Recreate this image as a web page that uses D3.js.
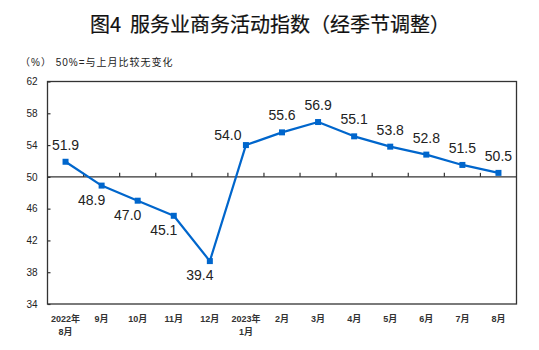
<!DOCTYPE html>
<html>
<head>
<meta charset="utf-8">
<script src="https://cdn.jsdelivr.net/npm/d3@7"></script>
<style>
  html, body { margin: 0; padding: 0; background: #fff; }
  svg { display: block; }
</style>
</head>
<body>
<svg id="chart" width="539" height="350"></svg>
<script>
// Services business activity index, seasonally adjusted
const categories = ["2022-08","2022-09","2022-10","2022-11","2022-12","2023-01","2023-02","2023-03","2023-04","2023-05","2023-06","2023-07","2023-08"];
const categoryLabels = [["2022年","8月"],["9月"],["10月"],["11月"],["12月"],["2023年","1月"],["2月"],["3月"],["4月"],["5月"],["6月"],["7月"],["8月"]];
const values = [51.9, 48.9, 47.0, 45.1, 39.4, 54.0, 55.6, 56.9, 55.1, 53.8, 52.8, 51.5, 50.5];
const labelPlacement = ["above","below","below","below","below","left","above","above","above","above","above","above","above"];
const yTicks = [34, 38, 42, 46, 50, 54, 58, 62];
const baseline = 50;

const svg = d3.select("#chart");
const frame = { left: 47.5, right: 516.5, top: 81.5, bottom: 304 };

const x = d3.scaleBand().domain(categories).range([frame.left, frame.right]).padding(0);
const y = d3.scaleLinear().domain([34, 62]).range([frame.bottom, frame.top]);
const cx = d => x(d) + x.bandwidth() / 2;

const cjk = "'Noto Sans CJK SC', sans-serif";
const latin = "'Liberation Sans', Arial, 'Noto Sans CJK SC', sans-serif";
const ink = "#222";
const axisColor = "#333";
const lineColor = "#0066cc";

// Title
svg.append("text")
  .attr("x", 270).attr("y", 32)
  .attr("text-anchor", "middle")
  .attr("font-family", cjk).attr("font-size", 20).attr("font-weight", "normal")
  .attr("fill", "#111").attr("stroke", "#111").attr("stroke-width", 0.2)
  .text("图4\u00a0\u00a0服务业商务活动指数（经季节调整）");

// Unit note
svg.append("text")
  .attr("x", 20).attr("y", 66)
  .attr("font-family", latin).attr("font-size", 10)
  .attr("letter-spacing", 1)
  .attr("fill", ink)
  .text("（%） 50%=与上月比较无变化");

// Plot frame
svg.append("rect")
  .attr("x", frame.left).attr("y", frame.top)
  .attr("width", frame.right - frame.left).attr("height", frame.bottom - frame.top)
  .attr("fill", "none").attr("stroke", axisColor).attr("stroke-width", 1.3);

// Y axis with inward ticks
const yAxis = svg.append("g")
  .attr("transform", `translate(${frame.left},0)`)
  .call(d3.axisLeft(y).tickValues(yTicks).tickSizeInner(-3).tickSizeOuter(0).tickPadding(10));
yAxis.select(".domain").remove();
yAxis.selectAll(".tick line").attr("stroke", axisColor).attr("stroke-width", 1.2);
yAxis.selectAll(".tick text")
  .attr("font-family", latin).attr("font-size", 10).attr("fill", ink);

// Horizontal axis at the 50 baseline, with ticks between months
const y50 = y(baseline);
svg.append("line")
  .attr("x1", frame.left).attr("x2", frame.right)
  .attr("y1", y50).attr("y2", y50)
  .attr("stroke", axisColor).attr("stroke-width", 1.3);
svg.append("g").selectAll("line")
  .data(categories.slice(1))
  .join("line")
  .attr("x1", d => x(d)).attr("x2", d => x(d))
  .attr("y1", y50).attr("y2", y50 - 4)
  .attr("stroke", axisColor).attr("stroke-width", 1.2);

// Month labels under the frame
const xl = svg.append("g");
categories.forEach((c, i) => {
  const t = xl.append("text")
    .attr("x", cx(c)).attr("y", 322)
    .attr("text-anchor", "middle")
    .attr("font-family", latin).attr("font-size", 9).attr("font-weight", "bold")
    .attr("fill", "#333");
  categoryLabels[i].forEach((s, j) => {
    t.append("tspan").attr("x", cx(c)).attr("dy", j === 0 ? 0 : 13).text(s);
  });
});

// Series line and markers
const series = categories.map((c, i) => ({ c, v: values[i], p: labelPlacement[i] }));
svg.append("path")
  .datum(series)
  .attr("fill", "none").attr("stroke", lineColor).attr("stroke-width", 2.2)
  .attr("stroke-linejoin", "round")
  .attr("d", d3.line().x(d => cx(d.c)).y(d => y(d.v)));

const m = 6;
svg.append("g").selectAll("rect")
  .data(series)
  .join("rect")
  .attr("x", d => cx(d.c) - m / 2).attr("y", d => y(d.v) - m / 2)
  .attr("width", m).attr("height", m)
  .attr("fill", lineColor);

// Value labels
const offsets = {
  above: { dx: 0, dy: -12 },
  below: { dx: -10, dy: 19 },
  left: { dx: -18, dy: -5 }
};
svg.append("g").selectAll("text")
  .data(series)
  .join("text")
  .attr("x", d => cx(d.c) + offsets[d.p].dx)
  .attr("y", d => y(d.v) + offsets[d.p].dy)
  .attr("text-anchor", "middle")
  .attr("font-family", latin).attr("font-size", 14)
  .attr("fill", ink)
  .text(d => d.v.toFixed(1));
</script>
</body>
</html>
